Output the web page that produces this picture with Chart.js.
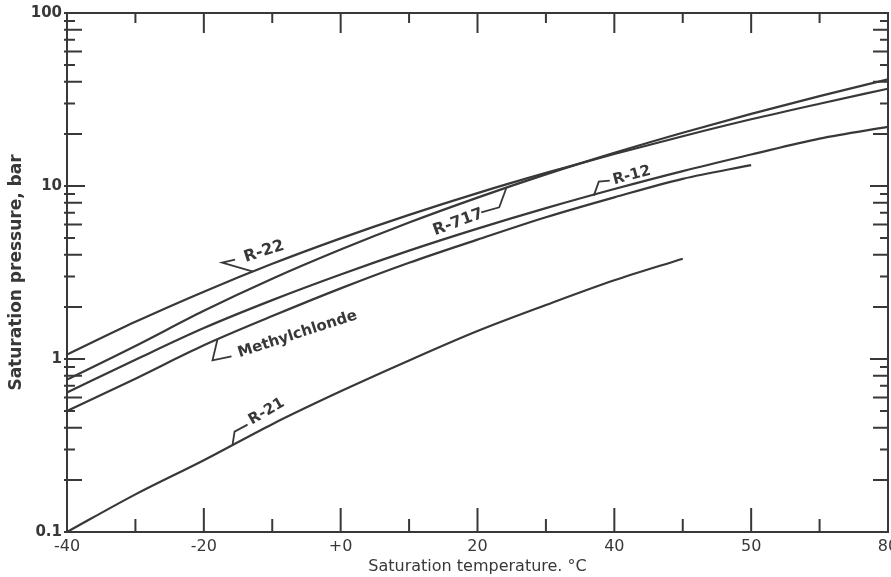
<!DOCTYPE html>
<html><head><meta charset="utf-8">
<script src="https://cdn.jsdelivr.net/npm/chart.js@4.4.1/dist/chart.umd.min.js"></script>
<style>html,body{margin:0;padding:0;background:#fff;overflow:hidden}#wrap{width:891px;height:577px;position:relative}</style>
</head><body><div id="wrap"><canvas id="c"></canvas></div>
<script>
// Saturation temperature (°C)
const temps = [-40,-30,-20,-10,0,10,20,30,40,50,60,70,80];
// Saturation pressure (bar)
const r22 = [1.06,1.64,2.45,3.55,4.98,6.81,9.10,11.9,15.3,19.4,24.3,29.9,36.5];
const r717 = [0.76,1.19,1.90,2.91,4.29,6.15,8.57,11.67,15.54,20.3,26.1,33.1,41.4];
const r12 = [0.64,0.99,1.51,2.19,3.08,4.23,5.67,7.45,9.61,12.2,15.2,18.8,22.0];
const methylChloride = [0.50,0.77,1.20,1.77,2.56,3.60,4.90,6.60,8.60,11.0,13.2];
const r21 = [0.10,0.165,0.26,0.42,0.65,0.98,1.45,2.05,2.85,3.80];
const xTickValues = [-40,-20,0,20,40,60,80];
const xTickLabels = ['-40','-20','+0','20','40','50','80'];
const yTickValues = [0.1,1,10,100];
const yTickLabels = ['0.1','1','10','100'];
const curveNames = ['R-22','R-717','R-12','Methylchlonde','R-21'];

const INK = '#383838';
function pts(arr){ return arr.map((v,i)=>({x:temps[i], y:v})); }
const seriesList = [r22, r717, r12, methylChloride, r21];

const datasets = seriesList.map((s,i)=>({
  label: curveNames[i], data: pts(s), borderColor: INK, borderWidth: 2.2,
  pointRadius: 0, cubicInterpolationMode: 'monotone', fill: false
}));

// annotation: anchor in data coords, leader & text offsets in px
const notes = [
  {text:'R-22', ax:-12.8, ay:3.2, leader:[[0,0],[-31,-9],[-18,-12]], tx:11, ty:-20, rot:-18, font:'bold 16px "DejaVu Sans"'},
  {text:'R-717', ax:24.2, ay:9.7, leader:[[0,0],[-7,19],[-25,24]], tx:-48, ty:34, rot:-20, font:'bold 16px "DejaVu Sans"'},
  {text:'R-12', ax:37, ay:8.8, leader:[[0,0],[5,-14],[16,-15]], tx:38, ty:-20, rot:-15, font:'bold 15px "DejaVu Sans"'},
  {text:'Methylchlonde', ax:-18, ay:1.3, leader:[[0,0],[-5,21],[14,17]], tx:80, ty:-5, rot:-18, font:'bold 15px "DejaVu Sans"'},
  {text:'R-21', ax:-15.8, ay:0.32, leader:[[0,0],[2,-13],[15,-20]], tx:34, ty:-33, rot:-30, font:'bold 15px "DejaVu Sans"'}
];

const frame = {
  id:'frame',
  afterDatasetsDraw(chart){
    const {ctx, chartArea:a, scales:{x,y}} = chart;
    ctx.save();
    ctx.strokeStyle = INK; ctx.lineWidth = 2;
    ctx.strokeRect(a.left, a.top, a.right-a.left, a.bottom-a.top);
    x.ticks.forEach(t=>{
      const px = x.getPixelForValue(t.value);
      const major = t.value % 20 === 0;
      const lb = major ? 24 : 13, lt = major ? 20 : 10;
      ctx.beginPath();
      ctx.moveTo(px, a.bottom); ctx.lineTo(px, a.bottom-lb);
      ctx.moveTo(px, a.top); ctx.lineTo(px, a.top+lt);
      ctx.stroke();
    });
    y.ticks.forEach(t=>{
      const py = y.getPixelForValue(t.value);
      const m = Math.round(t.value / Math.pow(10, Math.floor(Math.log10(t.value)+1e-9)));
      const len = m === 1 ? 18 : (m % 2 === 0 ? 15 : 8);
      ctx.beginPath();
      ctx.moveTo(a.left-3, py); ctx.lineTo(a.left+len, py);
      ctx.moveTo(a.right, py); ctx.lineTo(a.right-len, py);
      ctx.stroke();
    });
    ctx.fillStyle = INK; ctx.lineWidth = 1.8;
    notes.forEach(n=>{
      const px = x.getPixelForValue(n.ax), py = y.getPixelForValue(n.ay);
      ctx.beginPath();
      n.leader.forEach((p,i)=>{ i ? ctx.lineTo(px+p[0], py+p[1]) : ctx.moveTo(px+p[0], py+p[1]); });
      ctx.stroke();
      ctx.save();
      ctx.translate(px+n.tx, py+n.ty);
      ctx.rotate(n.rot*Math.PI/180);
      ctx.font = n.font; ctx.textAlign='center'; ctx.textBaseline='middle';
      ctx.fillText(n.text, 0, 0);
      ctx.restore();
    });
    ctx.restore();
  }
};

new Chart(document.getElementById('c'), {
  type:'line',
  data:{datasets},
  options:{
    responsive:true, maintainAspectRatio:false, animation:false,
    layout:{padding:{top:13,right:3,bottom:0,left:0}},
    plugins:{legend:{display:false}, tooltip:{enabled:false}},
    scales:{
      x:{
        type:'linear', min:-40, max:80,
        ticks:{stepSize:10, autoSkip:false, maxRotation:0, padding:5, color:INK,
          font:{family:'"DejaVu Sans"', size:16},
          callback:(v)=>{const i=xTickValues.indexOf(v); return i>=0?xTickLabels[i]:'';}},
        grid:{drawOnChartArea:false, drawTicks:false},
        border:{display:false},
        title:{display:true, text:'Saturation temperature. °C', color:INK,
          font:{family:'"DejaVu Sans"', size:16}, padding:{top:0,bottom:1}},
        afterFit:(s)=>{s.height=45; s.paddingLeft=0; s.paddingRight=0;}
      },
      y:{
        type:'logarithmic', min:0.1, max:100,
        afterBuildTicks:(s)=>{
          const vals=[];
          for(let d=0.1; d<100; d*=10){ for(let m=1;m<=9;m++){ vals.push(+(m*d).toPrecision(3)); } }
          vals.push(100);
          s.ticks = vals.map(v=>({value:v}));
        },
        ticks:{autoSkip:false, padding:5, color:INK,
          font:{family:'"DejaVu Sans"', size:15, weight:'bold'},
          callback:(v)=>{const i=yTickValues.findIndex(t=>Math.abs(t-v)<1e-9); return i>=0?yTickLabels[i]:'';}},
        grid:{drawOnChartArea:false, drawTicks:false},
        border:{display:false},
        title:{display:true, text:'Saturation pressure, bar', color:INK,
          font:{family:'"DejaVu Sans"', size:17, weight:'bold'}, padding:{top:6,bottom:2}},
        afterFit:(s)=>{s.width=67; s.paddingTop=0; s.paddingBottom=0;}
      }
    }
  },
  plugins:[frame]
});
</script>
</body></html>
